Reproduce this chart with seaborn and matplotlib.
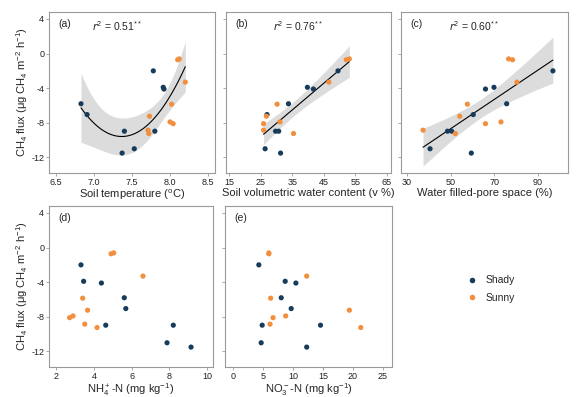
import matplotlib
matplotlib.use("Agg")
import matplotlib.pyplot as plt
from matplotlib.lines import Line2D
import seaborn as sns
import numpy as np
import pandas as pd

# CH4 flux per plot, same order in every predictor list
flux_shady = [-2.0, -3.9, -4.1, -5.8, -7.05, -8.97, -8.97, -11.0, -11.5]
flux_sunny = [-0.72, -0.62, -3.3, -5.85, -7.24, -7.9, -8.1, -8.85, -9.24]

temp_shady = [7.78, 7.91, 7.92, 6.83, 6.91, 7.40, 7.80, 7.53, 7.37]
temp_sunny = [8.10, 8.12, 8.20, 8.02, 7.73, 8.00, 8.04, 7.71, 7.72]

swc_shady = [49.5, 39.8, 41.7, 33.8, 27.0, 29.7, 30.7, 26.4, 31.3]
swc_sunny = [52.1, 53.1, 46.6, 30.2, 26.8, 31.1, 25.9, 25.9, 35.4]

wfps_shady = [96.8, 69.8, 65.9, 75.6, 60.3, 48.5, 50.4, 40.5, 59.4]
wfps_sunny = [78.3, 76.5, 80.3, 57.6, 54.1, 73.0, 65.9, 37.3, 52.1]

nh4_shady = [3.32, 3.46, 4.40, 5.61, 5.69, 4.63, 8.20, 7.87, 9.14]
nh4_sunny = [4.91, 5.05, 6.60, 3.41, 3.67, 2.90, 2.72, 3.52, 4.17]

no3_shady = [4.33, 8.72, 10.5, 8.06, 9.72, 4.89, 14.6, 4.72, 12.3]
no3_sunny = [6.0, 6.0, 12.3, 6.3, 19.4, 8.8, 6.7, 6.2, 21.3]

sites = ["Shady", "Sunny"]
r2_labels = ["0.51", "0.76", "0.60"]

sns.set_style("white")
plt.rcParams["font.family"] = ["Liberation Sans", "DejaVu Sans"]
plt.rcParams["mathtext.default"] = "regular"
plt.rcParams["axes.unicode_minus"] = False

palette = {"Shady": "#173c5b", "Sunny": "#f28e3c"}
spine_col = "#9a9a9a"

df = pd.DataFrame({
    "site": ["Shady"] * len(flux_shady) + ["Sunny"] * len(flux_sunny),
    "flux": flux_shady + flux_sunny,
    "temp": temp_shady + temp_sunny,
    "swc": swc_shady + swc_sunny,
    "wfps": wfps_shady + wfps_sunny,
    "nh4": nh4_shady + nh4_sunny,
    "no3": no3_shady + no3_sunny,
})

# t quantile for 95% CI, df = 18 - 2 (linear) or 18 - 3 (quadratic)
T975 = {16: 2.120, 15: 2.131}


def poly_band(x, y, order, n=100):
    # ordinary least squares fit with analytic 95% confidence band
    x = np.asarray(x)
    y = np.asarray(y)
    X = np.vander(x, order + 1)
    beta, *_ = np.linalg.lstsq(X, y, rcond=None)
    resid = y - X @ beta
    dof = len(x) - (order + 1)
    s2 = resid @ resid / dof
    cov = s2 * np.linalg.inv(X.T @ X)
    xg = np.linspace(x.min(), x.max(), n)
    Xg = np.vander(xg, order + 1)
    yg = Xg @ beta
    se = np.sqrt(np.einsum("ij,jk,ik->i", Xg, cov, Xg))
    t = T975[dof]
    return xg, yg, yg - t * se, yg + t * se


fig = plt.figure(figsize=(5.77, 3.97), dpi=100)
W, H = 577, 397


def add_ax(l, t, r, b):
    return fig.add_axes([l / W, 1 - b / H, (r - l) / W, (b - t) / H])


ax_a = add_ax(49, 12, 215, 173)
ax_b = add_ax(226, 12, 391, 173)
ax_c = add_ax(401, 12, 568, 173)
ax_d = add_ax(49, 206, 213, 367)
ax_e = add_ax(225, 206, 392, 367)

panels = [
    (ax_a, "temp", "Soil temperature ($^{o}$C)", (6.41, 8.59), [6.5, 7.0, 7.5, 8.0, 8.5], "(a)", 2),
    (ax_b, "swc", "Soil volumetric water content (v %)", (14, 66.3), [15, 25, 35, 45, 55, 65], "(b)", 1),
    (ax_c, "wfps", "Water filled-pore space (%)", (27.2, 103.7), [30, 50, 70, 90], "(c)", 1),
    (ax_d, "nh4", "NH$_4^+$-N (mg kg$^{-1}$)", (1.63, 10.3), [2, 4, 6, 8, 10], "(d)", 0),
    (ax_e, "no3", "NO$_3^-$-N (mg kg$^{-1}$)", (-1.3, 26.5), [0, 5, 10, 15, 20, 25], "(e)", 0),
]

for i, (ax, col, xlabel, xlim, xticks, tag, order) in enumerate(panels):
    if order:
        xg, yg, lo, hi = poly_band(df[col], df["flux"], order)
        ax.fill_between(xg, lo, hi, color="#dcdcdc", linewidth=0, zorder=1)
        sns.lineplot(x=xg, y=yg, ax=ax, color="black", linewidth=0.8, zorder=2)
        ax.text(0.26 if i == 0 else 0.287, 0.915,
                "$\\mathit{r}^{2}$ = " + r2_labels[i] + "$^{**}$",
                transform=ax.transAxes, fontsize=7.5, va="center", ha="left")
    sns.scatterplot(data=df, x=col, y="flux", hue="site", palette=palette, ax=ax,
                    s=14, edgecolor="none", legend=False, zorder=3)
    ax.text(0.055, 0.925, tag, transform=ax.transAxes, fontsize=7.5, va="center", ha="left")
    ax.set_xlim(xlim)
    ax.set_xticks(xticks)
    if col == "temp":
        ax.set_xticklabels([f"{v:.1f}" for v in xticks])
    ax.set_ylim(-13.8, 4.8)
    ax.set_yticks([4, 0, -4, -8, -12])
    ax.set_xlabel(xlabel, fontsize=8, labelpad=0.5)
    if ax in (ax_a, ax_d):
        ax.set_ylabel("CH$_4$ flux (μg CH$_4$ m$^{-2}$ h$^{-1}$)", fontsize=8, labelpad=1)
    else:
        ax.set_ylabel("")
        ax.set_yticklabels([])
    ax.tick_params(axis="both", labelsize=6.5, length=2.5, width=0.6, color=spine_col,
                   pad=1, direction="out", bottom=True, left=True, labelcolor="#222222")
    for s in ax.spines.values():
        s.set_color(spine_col)
        s.set_linewidth(0.8)

handles = [Line2D([], [], marker="o", linestyle="none", markersize=4,
                  markerfacecolor=palette[s], markeredgecolor="none", label=s) for s in sites]
fig.legend(handles=handles, loc="center left", bbox_to_anchor=(452 / W, 1 - 289 / H),
           frameon=False, fontsize=7.5, handletextpad=0.3, labelspacing=0.7)

fig.savefig("out.png", dpi=100)
